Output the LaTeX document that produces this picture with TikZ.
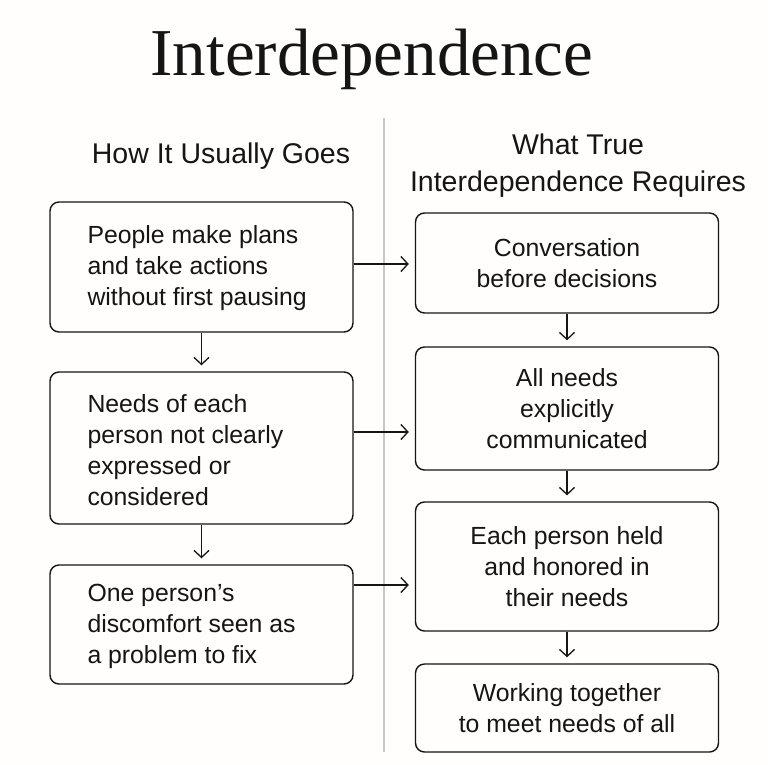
\documentclass[tikz,border=0pt]{standalone}
\usepackage{fontspec}
\setmainfont{Liberation Sans}
\newfontfamily\titlefont{Liberation Serif}
\usetikzlibrary{positioning,arrows.meta}
\definecolor{paper}{HTML}{FFFEFC}
\definecolor{ink}{HTML}{151515}
\definecolor{divider}{HTML}{C6C6C4}
\tikzset{
  stepbox/.style={draw=ink, line width=1.4pt, rounded corners=9pt, fill=paper, minimum width=303pt},
  bodytext/.style={inner sep=0pt, text=ink, font=\fontsize{24.8}{31}\selectfont},
  headtext/.style={inner sep=0pt, text=ink, font=\fontsize{28.5}{37}\selectfont, align=center},
  arr/.style={draw=ink, line width=1.3pt, -{Straight Barb[length=7pt,width=15pt,line width=1.3pt]}, shorten >=6pt}
}
\begin{document}
\begin{tikzpicture}[x=1pt,y=-1pt]
  \fill[paper] (0,0) rectangle (768,764);
  \useasboundingbox (0,0) rectangle (768,764);
  % title and column heads
  \node[anchor=base, text=ink, inner sep=0pt, font=\titlefont\fontsize{67}{70}\selectfont] (title) at (372,75) {Interdependence};
  \node[headtext] (lhead) at (221,156) {How It Usually Goes};
  \node[headtext] (rhead) at (578,166) {What True\\Interdependence Requires};
  \draw[divider, line width=2.5pt] (384,118) -- (384,752);
  % left column
  \node[stepbox, minimum height=130pt] (l1) at (201.5,267) {};
  \node[bodytext, anchor=west, align=left] (l1t) at ([xshift=38pt,yshift=-1pt]l1.west) {People make plans\\and take actions\\without first pausing};
  \node[stepbox, minimum height=152pt] (l2) at (201.5,448) {};
  \node[bodytext, anchor=west, align=left] (l2t) at ([xshift=38pt,yshift=-2pt]l2.west) {Needs of each\\person not clearly\\expressed or\\considered};
  \node[stepbox, minimum height=119pt] (l3) at (201.5,624.5) {};
  \node[bodytext, anchor=west, align=left] (l3t) at ([xshift=38pt,yshift=-2pt]l3.west) {One person's\\discomfort seen as\\a problem to fix};
  % right column
  \node[stepbox, bodytext, align=center, minimum height=100pt] (r1) at (567,263) {Conversation\\before decisions};
  \node[stepbox, bodytext, align=center, minimum height=123pt] (r2) at (567,408.5) {All needs\\explicitly\\communicated};
  \node[stepbox, bodytext, align=center, minimum height=129pt] (r3) at (567,566.5) {Each person held\\and honored in\\their needs};
  \node[stepbox, bodytext, align=center, minimum height=88pt] (r4) at (567,708) {Working together\\to meet needs of all};
  % connectors
  \draw[arr] (l1) -- (l2);
  \draw[arr] (l2) -- (l3);
  \draw[arr] (r1) -- (r2);
  \draw[arr] (r2) -- (r3);
  \draw[arr] (r3) -- (r4);
  \draw[arr] (l1.east |- 0,264) -- (r1.west |- 0,264);
  \draw[arr] (l2.east |- 0,432) -- (r2.west |- 0,432);
  \draw[arr] (l3.east |- 0,585) -- (r3.west |- 0,585);
\end{tikzpicture}
\end{document}
